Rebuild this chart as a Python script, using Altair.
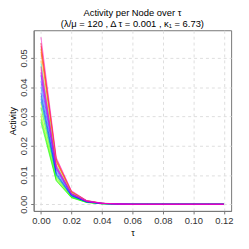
import altair as alt
import pandas as pd

tau = [0.00, 0.01, 0.02, 0.03, 0.04, 0.05, 0.06, 0.07, 0.08, 0.09, 0.10, 0.11, 0.12]

colors = ["#FF0040", "#FF0000", "#FF4000", "#FF8000", "#FFBF00", "#FFFF00",
          "#BFFF00", "#80FF00", "#40FF00", "#00FF00", "#00FF40", "#00FF80",
          "#00FFBF", "#00FFFF", "#00BFFF", "#0080FF", "#0040FF", "#0000FF",
          "#4000FF", "#8000FF", "#BF00FF", "#FF00FF", "#FF0080", "#FF00BF"]

a0 = [0.054, 0.055, 0.052, 0.053, 0.049, 0.034, 0.031, 0.030, 0.029, 0.028, 0.033, 0.035,
      0.037, 0.048, 0.044, 0.040, 0.036, 0.038, 0.042, 0.045, 0.044, 0.046, 0.047, 0.057]
a1 = [0.0150, 0.0155, 0.0145, 0.0148, 0.0138, 0.0095, 0.0088, 0.0085, 0.0082, 0.0080, 0.0092, 0.0098,
      0.0103, 0.0134, 0.0123, 0.0112, 0.0100, 0.0106, 0.0118, 0.0126, 0.0123, 0.0129, 0.0131, 0.0160]
a2 = [0.0042, 0.0044, 0.0041, 0.0042, 0.0039, 0.0027, 0.0025, 0.0024, 0.0023, 0.0022, 0.0026, 0.0028,
      0.0029, 0.0038, 0.0035, 0.0032, 0.0028, 0.0030, 0.0033, 0.0035, 0.0035, 0.0036, 0.0037, 0.0046]
a3 = [0.0012, 0.0012, 0.0011, 0.0012, 0.0011, 0.0008, 0.0007, 0.0007, 0.0006, 0.0006, 0.0007, 0.0008,
      0.0008, 0.0011, 0.0010, 0.0009, 0.0008, 0.0008, 0.0009, 0.0010, 0.0010, 0.0010, 0.0010, 0.0013]
a4 = [0.0003, 0.0003, 0.0003, 0.0003, 0.0003, 0.0002, 0.0002, 0.0002, 0.0002, 0.0002, 0.0002, 0.0002,
      0.0002, 0.0003, 0.0003, 0.0003, 0.0002, 0.0002, 0.0003, 0.0003, 0.0003, 0.0003, 0.0003, 0.0004]
a5 = [0.0001] * 24
tail = [0.0, 0.0, 0.0, 0.0, 0.0, 0.0, 0.0]

rows = []
for i in range(24):
    vals = [a0[i], a1[i], a2[i], a3[i], a4[i], a5[i]] + tail
    for t, v in zip(tau, vals):
        rows.append({"s": f"s{i:02d}", "tau": t, "act": v})
df = pd.DataFrame(rows)
names = [f"s{i:02d}" for i in range(24)]

FONT = "Liberation Sans"

chart = alt.Chart(df).mark_line(strokeWidth=1, opacity=0.55, clip=True).encode(
    x=alt.X("tau:Q", title="τ",
            scale=alt.Scale(domain=[-0.0048, 0.1248], nice=False, zero=False),
            axis=alt.Axis(values=[0, 0.02, 0.04, 0.06, 0.08, 0.1, 0.12], format=".2f")),
    y=alt.Y("act:Q", title="Activity",
            scale=alt.Scale(domain=[-0.00228, 0.0594], nice=False, zero=False),
            axis=alt.Axis(values=[0, 0.01, 0.02, 0.03, 0.04, 0.05], format=".2f",
                          labelAngle=270, labelAlign="center", labelBaseline="bottom")),
    color=alt.Color("s:N", scale=alt.Scale(domain=names, range=colors), legend=None),
).properties(
    width=200, height=183,
    padding={"left": 26, "top": 21, "right": 10, "bottom": 35},
    autosize=alt.AutoSizeParams(type="none"),
    title=alt.Title("Activity per Node over  τ",
                    subtitle="(λ/μ = 120 ,  Δ τ = 0.001 ,  κ₁ = 6.73)",
                    anchor="middle", font=FONT, fontSize=9.5, fontWeight="normal",
                    subtitleFont=FONT, subtitleFontSize=9.5, subtitleColor="black",
                    color="black", offset=2, subtitlePadding=1),
).configure_view(
    stroke="#777777", strokeWidth=1
).configure_axis(
    labelFont=FONT, titleFont=FONT, labelFontSize=9.5, titleFontSize=9,
    titleFontWeight="normal", labelColor="#333333", titleColor="black",
    domainColor="#777777", tickColor="#777777", tickSize=3,
    gridColor="#dddddd", gridDash=[3, 3], labelPadding=2,
).configure_axisY(titlePadding=1).configure_axisX(titlePadding=3)

chart.save("out.html", embed_options={"renderer": "svg", "actions": False})
